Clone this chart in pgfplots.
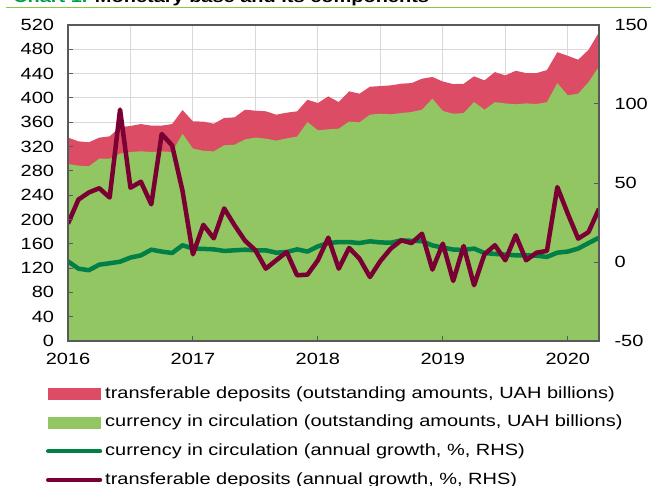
\documentclass[border=0pt]{standalone}
\usepackage{fontspec}
\setmainfont{Liberation Sans}[FakeStretch=1.23]
\usepackage{pgfplots}
\usepackage{pgfplotstable}
\pgfplotsset{compat=1.18}
\definecolor{redA}{HTML}{DC4C64}
\definecolor{greenA}{HTML}{92C662}
\definecolor{greenL}{HTML}{008046}
\definecolor{maroonL}{HTML}{7A0034}
\definecolor{gridc}{HTML}{D9D9D9}
\definecolor{framec}{HTML}{595959}
\definecolor{titlegreen}{HTML}{00A04B}
\definecolor{rulegreen}{HTML}{8CC63F}
\newcommand\f{\fontsize{16.3}{19.5}\selectfont}
\pgfplotstableread{
i tot cur gcur gdep
0 334.7 291.3 0.4 24.3
1 328.6 288.6 -4.2 39.5
2 327.0 287.5 -5.2 44.0
3 334.6 300.0 -1.7 46.7
4 336.8 300.0 -0.8 40.8
5 352.0 308.4 0.2 96.5
6 353.8 311.0 2.8 47.0
7 357.0 312.2 4.2 50.8
8 354.4 311.0 7.8 36.5
9 354.4 312.0 6.6 81.0
10 357.0 311.0 5.7 73.8
11 380.0 341.0 10.6 45.0
12 361.5 316.6 8.5 4.9
13 361.0 313.0 8.3 23.5
14 357.5 312.0 8.0 15.0
15 367.0 322.0 7.0 33.9
16 368.0 323.0 7.4 23.2
17 380.6 331.7 7.8 13.5
18 379.0 334.7 7.4 7.4
19 378.0 333.0 7.4 -4.2
20 372.4 329.7 5.9 1.1
21 375.7 333.5 6.3 6.3
22 377.9 336.3 8.0 -8.4
23 397.0 360.3 6.6 -8.0
24 391.6 346.7 9.9 1.1
25 402.5 348.3 12.0 15.4
26 393.2 349.4 12.6 -4.2
27 410.8 361.0 12.6 8.9
28 407.0 359.8 12.0 2.1
29 418.4 372.4 13.1 -9.5
30 419.5 374.0 12.4 0.6
31 420.6 373.0 12.2 8.5
32 423.4 375.1 13.7 13.7
33 424.4 376.8 13.4 12.0
34 431.6 380.6 13.2 17.9
35 434.4 398.7 10.5 -4.8
36 427.0 378.5 9.1 11.6
37 422.8 374.0 7.9 -12.0
38 423.3 375.0 7.6 10.1
39 435.5 393.2 8.5 -14.7
40 428.8 380.6 5.7 4.9
41 442.5 393.0 5.1 10.6
42 437.0 391.0 4.7 1.1
43 444.7 389.5 4.2 16.9
44 440.9 391.0 4.2 1.1
45 440.9 390.0 4.0 5.9
46 445.8 393.0 3.2 7.0
47 475.3 424.4 5.9 47.4
48 469.3 404.2 6.6 30.6
49 462.8 407.0 8.5 14.8
50 479.3 426.0 12.0 19.0
51 508.0 451.8 15.4 33.7
}\data
\begin{document}
\begin{tikzpicture}
\useasboundingbox (-68bp,-145bp) rectangle (583bp,341bp);
\draw[rulegreen, line width=1.5bp] (-62bp,333.5bp) -- (583bp,333.5bp);
\node[anchor=base west, inner sep=0pt, font=\bfseries\f] at (-55bp,338bp) {\textcolor{titlegreen}{Chart 1.} Monetary base and its components};
% axis 1: areas, grid, labels
\begin{axis}[at={(0,0)}, anchor=south west, scale only axis,
  width=531bp, height=316bp,
  xmin=0, xmax=51, ymin=0, ymax=520,
  ytick={0,40,...,520},
  xtick={0,12,24,36,48}, xticklabels={2016,2017,2018,2019,2020},
  minor xtick={6,18,30,42},
  xmajorgrids, xminorgrids, ymajorgrids,
  grid style={gridc, line width=1bp},
  minor grid style={gridc, line width=1bp},
  major tick length=0pt, minor tick length=0pt,
  axis line style={draw=none},
  xtick pos=left, ytick pos=left,
  tick label style={font=\f},
  /pgf/number format/assume math mode=true,
  xticklabel style={yshift=-8.5bp},
  yticklabel style={xshift=-10.5bp},
]
\addplot[fill=redA, draw=none] table[x=i,y=tot]{\data} \closedcycle;
\addplot[fill=greenA, draw=none] table[x=i,y=cur]{\data} \closedcycle;
\end{axis}
% axis 2: growth lines, right axis, legend
\begin{axis}[at={(0,0)}, anchor=south west, scale only axis,
  width=531bp, height=316bp,
  xmin=0, xmax=51, ymin=-50, ymax=150,
  hide x axis, axis y line*=right,
  ytick={-50,0,50,100,150},
  tick align=inside,
  major tick length=5bp,
  tick style={framec, line width=1bp},
  axis line style={framec, line width=1.5bp},
  tick label style={font=\f},
  /pgf/number format/assume math mode=true,
  yticklabel style={xshift=12bp},
  legend cell align=left,
  legend style={draw=none, fill=none, inner sep=0pt, outer sep=0pt,
    at={(-0.0414,-0.1434)}, anchor=north west,
    row sep=13.6bp, column sep=3bp, font=\f,
    nodes={inner sep=0pt, text height=11.7bp, text depth=3.4bp}},
]
\addlegendimage{legend image code/.code={\fill[redA] (0bp,-5.5bp) rectangle (52bp,5.5bp);}}
\addlegendentry{transferable deposits (outstanding amounts, UAH billions)}
\addlegendimage{legend image code/.code={\fill[greenA] (0bp,-5.5bp) rectangle (52bp,5.5bp);}}
\addlegendentry{currency in circulation (outstanding amounts, UAH billions)}
\addplot[greenL, line width=4.5bp, line join=round,
  legend image code/.code={\draw[greenL, line width=4.2bp, line cap=round] (0bp,0bp) -- (52bp,0bp);}]
  table[x=i,y=gcur]{\data};
\addlegendentry{currency in circulation (annual growth, \%, RHS)}
\addplot[maroonL, line width=4.5bp, line join=round,
  legend image code/.code={\draw[maroonL, line width=4.2bp, line cap=round] (0bp,0bp) -- (52bp,0bp);}]
  table[x=i,y=gdep]{\data};
\addlegendentry{transferable deposits (annual growth, \%, RHS)}
\end{axis}
% axis 3: frame and ticks on top
\begin{axis}[at={(0,0)}, anchor=south west, scale only axis,
  width=531bp, height=316bp,
  xmin=0, xmax=51, ymin=0, ymax=520,
  ytick={0,40,...,480},
  xtick={12,24,36,48},
  xticklabels={}, yticklabels={},
  xtick pos=left, ytick pos=left,
  tick align=inside,
  major tick length=5bp,
  tick style={framec, line width=1bp},
  axis line style={framec, line width=1.5bp},
]
\end{axis}
\end{tikzpicture}
\end{document}
